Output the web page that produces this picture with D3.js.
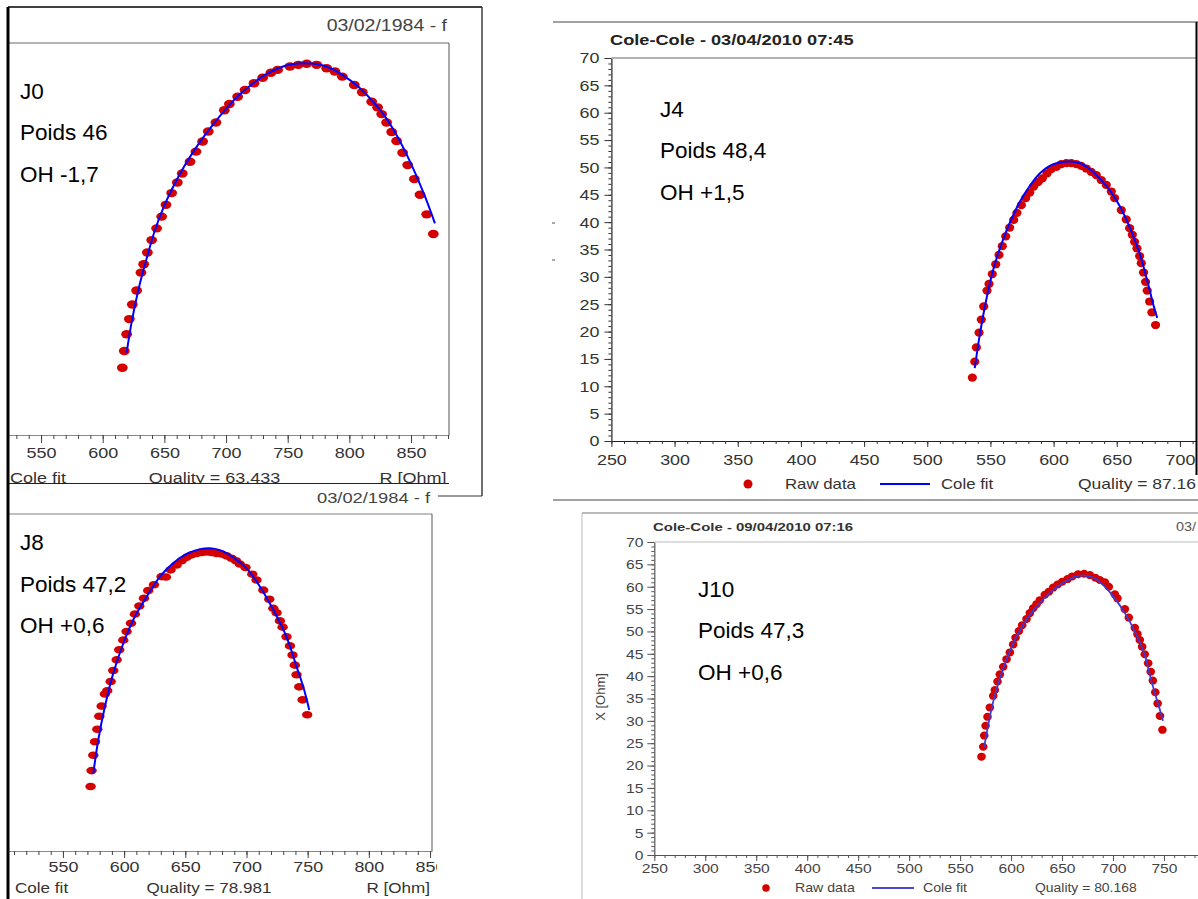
<!DOCTYPE html>
<html>
<head>
<meta charset="utf-8">
<script src="https://cdn.jsdelivr.net/npm/d3@7"></script>
<style>
  body { margin: 0; background: #fff; }
  svg { display: block; }
  text { font-family: "Liberation Sans", Arial, Helvetica, sans-serif; }
</style>
</head>
<body>
<svg id="c" width="1198" height="899"></svg>
<script>
// ---------------- DATA ----------------
// Raw data points [R (Ohm), X (Ohm)] and Cole fit curves
const j0Raw = [[615.9,12.0],[617.5,15.0],[619.4,18.0],[621.6,20.7],[624.0,23.3],[627.5,25.8],[631.0,29.0],[633.2,30.5],[636.2,32.6],[639.7,34.8],[643.7,36.9],[647.8,39.0],[651.3,41.1],[655.9,43.2],[660.5,45.1],[664.5,46.7],[670.8,48.8],[675.6,50.6],[681.0,52.4],[685.6,54.2],[691.8,55.8],[698.6,58.0],[702.7,59.1],[709.4,60.4],[715.4,61.6],[722.7,62.8],[729.7,63.8],[736.4,64.7],[741.8,65.2],[751.8,65.8],[758.6,66.1],[765.4,66.3],[773.5,66.1],[781.6,65.5],[788.3,64.9],[794.3,64.0],[804.0,62.5],[810.5,61.2],[818.1,59.5],[822.9,58.5],[826.2,57.3],[830.2,55.8],[834.3,54.1],[838.3,52.5],[843.2,50.4],[847.3,48.2],[852.7,45.7],[857.3,42.9],[862.7,39.4],[868.1,35.9]];
const j0Fit = [[619.4,14.7],[623.5,20.2],[628.9,25.9],[635.6,31.5],[642.4,36.6],[649.1,40.5],[655.9,43.8],[666.7,48.2],[677.5,51.9],[688.3,55.1],[699.1,58.0],[710.0,60.6],[720.8,62.6],[731.6,64.3],[742.4,65.5],[753.2,66.2],[764.0,66.4],[774.8,66.2],[785.6,65.4],[796.4,64.0],[807.3,62.2],[818.1,59.8],[828.9,56.9],[839.7,53.0],[850.5,48.2],[861.3,42.6],[869.4,37.8]];

const j4Raw = [[535.7,11.6],[537.6,14.5],[538.9,17.1],[541.0,19.8],[542.8,22.2],[544.7,24.6],[547.3,27.5],[548.9,28.7],[551.5,30.5],[554.2,32.3],[556.8,34.0],[559.4,35.6],[562.1,37.4],[565.2,39.0],[568.4,40.4],[571.0,41.7],[574.5,43.1],[577.9,44.4],[581.1,45.4],[584.2,46.5],[587.7,47.3],[591.1,48.0],[594.8,48.9],[598.2,49.7],[602.2,50.1],[606.1,50.6],[610.1,50.8],[614.0,50.8],[618.0,50.6],[621.9,50.3],[625.9,49.8],[629.8,49.2],[633.8,48.6],[637.7,47.7],[641.7,46.8],[645.7,45.6],[648.3,44.4],[653.6,42.2],[657.5,40.5],[660.2,38.9],[662.3,37.7],[664.1,36.4],[666.0,35.2],[668.1,33.8],[669.4,32.5],[671.2,30.8],[672.8,29.1],[674.1,27.5],[676.0,25.5],[677.8,23.5],[680.7,21.2]];
const j4Fit = [[537.6,13.3],[541.5,19.3],[546.8,25.9],[552.1,31.2],[558.7,36.0],[565.2,39.8],[573.2,43.7],[581.1,46.6],[589.0,48.9],[596.9,50.3],[604.8,50.9],[612.7,51.1],[620.6,50.8],[628.5,49.7],[636.4,48.0],[644.3,45.9],[652.2,43.0],[660.2,39.1],[668.1,34.3],[674.7,28.8],[678.6,25.2],[682.0,22.5]];

const j8Raw = [[572.6,13.4],[573.4,16.7],[574.8,19.9],[576.2,22.7],[578.1,25.3],[579.7,28.0],[581.6,30.1],[584.3,32.6],[586.2,33.3],[589.0,35.2],[591.1,37.5],[593.9,39.7],[596.0,41.8],[599.3,43.8],[602.0,45.6],[605.6,47.3],[608.8,49.2],[612.4,50.9],[616.2,52.5],[619.7,54.1],[624.4,55.3],[630.6,57.0],[634.2,56.9],[638.0,58.4],[642.9,59.4],[647.0,60.3],[651.0,61.0],[655.1,61.5],[659.2,61.8],[663.3,62.0],[667.4,62.1],[671.5,62.0],[675.6,61.8],[679.6,61.7],[683.7,61.3],[687.8,60.8],[691.4,60.3],[694.6,59.6],[699.2,58.9],[704.7,57.5],[708.2,56.3],[713.7,54.2],[718.6,52.3],[721.9,50.4],[724.6,49.5],[727.3,47.8],[729.5,46.5],[732.7,44.5],[735.5,42.6],[737.6,40.7],[739.5,38.6],[740.9,36.6],[743.1,34.1],[745.8,31.4],[749.6,28.3]];
const j8Fit = [[574.8,16.1],[578.9,23.1],[584.3,30.0],[591.1,36.9],[599.3,43.1],[608.8,48.7],[618.4,52.8],[629.3,57.0],[640.2,59.8],[651.0,61.7],[662.0,62.7],[670.1,62.9],[678.3,62.5],[689.2,61.0],[700.1,58.7],[711.0,54.9],[721.9,50.1],[732.7,44.5],[740.9,38.3],[746.4,34.1],[751.3,29.3]];

const j10Raw = [[571.0,22.0],[572.7,24.2],[573.7,26.7],[575.0,28.9],[576.9,30.9],[579.2,33.0],[582.5,35.6],[584.1,36.9],[586.7,38.8],[589.0,40.4],[592.3,42.1],[595.6,43.8],[598.8,45.3],[602.1,47.1],[604.4,48.6],[607.7,50.1],[610.9,51.4],[615.2,52.8],[618.4,54.1],[621.7,55.2],[625.0,56.1],[628.2,57.0],[633.1,58.2],[637.1,58.9],[641.3,59.8],[645.6,60.5],[650.1,61.1],[655.4,61.7],[659.9,62.3],[665.8,62.8],[671.7,62.9],[677.3,62.6],[682.8,62.0],[687.1,61.5],[692.0,61.0],[695.9,60.0],[701.8,58.3],[704.4,57.4],[711.6,55.0],[715.5,53.1],[721.4,50.8],[724.0,49.4],[726.3,48.1],[728.6,46.6],[731.2,44.9],[734.5,42.9],[737.0,41.0],[739.1,39.0],[741.5,36.4],[743.8,33.9],[746.1,31.1],[748.5,28.0]];
const j10Fit = [[573.7,24.2],[577.6,29.1],[582.5,34.3],[589.0,39.5],[597.2,44.7],[607.0,49.6],[618.4,53.7],[629.9,56.8],[641.3,59.3],[652.8,61.1],[664.2,62.3],[672.4,62.5],[682.2,61.9],[692.0,60.0],[701.8,57.4],[711.6,54.1],[721.4,50.0],[731.2,44.7],[737.0,39.5],[742.0,35.5],[746.0,32.5],[749.0,30.0]];

// Tick labels
const j0XTicks = [550, 600, 650, 700, 750, 800, 850];
const j8XTicks = [550, 600, 650, 700, 750, 800, 850];
const j4XTicks = [250, 300, 350, 400, 450, 500, 550, 600, 650, 700];
const j10XTicks = [250, 300, 350, 400, 450, 500, 550, 600, 650, 700, 750];
const yTicks = [0, 5, 10, 15, 20, 25, 30, 35, 40, 45, 50, 55, 60, 65, 70];

// Text content
const notes = {
  j0: ["J0", "Poids 46", "OH -1,7"],
  j4: ["J4", "Poids 48,4", "OH +1,5"],
  j8: ["J8", "Poids 47,2", "OH +0,6"],
  j10: ["J10", "Poids 47,3", "OH +0,6"]
};
const qualities = { j0: "Quality = 63.433", j4: "Quality = 87.16", j8: "Quality = 78.981", j10: "Quality = 80.168" };

// ---------------- DRAWING ----------------
const svg = d3.select('#c');
const defs = svg.append('defs');

function txt(g, x, y, s, o = {}) {
  return g.append('text')
    .attr('transform', `translate(${x},${y}) scale(${o.sx || 1},1)`)
    .attr('dy', '0.35em')
    .attr('text-anchor', o.anchor || 'start')
    .attr('font-size', o.size || 14)
    .attr('font-weight', o.weight || 'normal')
    .attr('fill', o.fill || '#333')
    .text(s);
}
function ln(g, x1, y1, x2, y2, stroke, w) {
  return g.append('line').attr('x1', x1).attr('y1', y1).attr('x2', x2).attr('y2', y2)
    .attr('stroke', stroke).attr('stroke-width', w || 1);
}
function clip(id, x, y, w, h) {
  defs.append('clipPath').attr('id', id).append('rect')
    .attr('x', x).attr('y', y).attr('width', w).attr('height', h);
  return svg.append('g').attr('clip-path', `url(#${id})`);
}

function drawPanel(p) {
  const g = clip(p.id, p.clip[0], p.clip[1], p.clip[2], p.clip[3]);
  const x = d3.scaleLinear().domain(p.xDomain).range(p.xRange);
  const y = d3.scaleLinear().domain([0, 70]).range(p.yRange);
  const y0 = p.yRange[0];

  // minor x ticks
  const minor = d3.range(Math.ceil(p.xDomain[0] / 10) * 10, p.xDomain[1], 10);
  const axMinor = g.append('g').attr('transform', `translate(0,${y0})`)
    .call(d3.axisBottom(x).tickValues(minor).tickSize(p.minorLen).tickSizeOuter(0).tickFormat(''));
  axMinor.select('.domain').attr('stroke', p.axisColor).attr('stroke-width', 1.2);
  axMinor.selectAll('.tick line').attr('stroke', p.tickColor);
  // major x ticks + labels
  const axMajor = g.append('g').attr('transform', `translate(0,${y0})`)
    .call(d3.axisBottom(x).tickValues(p.xTicks).tickSize(p.majorLen).tickSizeOuter(0).tickFormat(d3.format('d')));
  axMajor.select('.domain').remove();
  axMajor.selectAll('.tick line').attr('stroke', p.tickColor);
  axMajor.selectAll('.tick text')
    .attr('y', p.labelOff).attr('dy', '0.35em')
    .attr('transform', `scale(${p.sx},1)`)
    .attr('font-size', p.tickFont).attr('fill', p.labelColor)
    .attr('font-family', '"Liberation Sans", Arial, sans-serif');

  if (p.yAxis) {
    const ym = d3.range(0, 71, 1);
    const ayMinor = g.append('g').attr('transform', `translate(${p.xRange[0]},0)`)
      .call(d3.axisLeft(y).tickValues(ym).tickSize(3).tickSizeOuter(0).tickFormat(''));
    ayMinor.select('.domain').attr('stroke', p.axisColor).attr('stroke-width', 1.2);
    ayMinor.selectAll('.tick line').attr('stroke', p.tickColor);
    const ayMajor = g.append('g').attr('transform', `translate(${p.xRange[0]},0)`)
      .call(d3.axisLeft(y).tickValues(yTicks).tickSize(7).tickSizeOuter(0).tickFormat(d3.format('d')));
    ayMajor.select('.domain').remove();
    ayMajor.selectAll('.tick line').attr('stroke', p.tickColor);
    ayMajor.selectAll('.tick text')
      .attr('x', -p.yLabelOff / p.sx).attr('dy', '0.35em')
      .attr('transform', `scale(${p.sx},1)`)
      .attr('font-size', p.tickFont).attr('fill', p.labelColor)
      .attr('font-family', '"Liberation Sans", Arial, sans-serif');
  }

  // raw dots (under the fit line)
  g.append('g').selectAll('ellipse').data(p.raw).join('ellipse')
    .attr('cx', d => x(d[0])).attr('cy', d => y(d[1]))
    .attr('rx', p.rx).attr('ry', p.ry).attr('fill', '#d40000');
  // fit line
  g.append('path')
    .datum(p.fit)
    .attr('d', d3.line().x(d => x(d[0])).y(d => y(d[1])).curve(d3.curveCatmullRom))
    .attr('fill', 'none').attr('stroke', p.fitColor).attr('stroke-width', p.fitWidth);

  // annotations
  p.notes.forEach((s, i) => {
    g.append('text').attr('x', p.noteX).attr('y', p.noteY[i])
      .attr('font-size', 22.5).attr('fill', '#000').text(s);
  });
  return g;
}

// ---- Panel J0 (top left) ----
const gJ0 = drawPanel({
  id: 'cj0', clip: [8, 7, 474, 476.5],
  xDomain: [523.2, 880.8], xRange: [8, 449], yRange: [435, 43],
  xTicks: j0XTicks, minorLen: 4, majorLen: 8, labelOff: 18, sx: 1.2, tickFont: 15,
  axisColor: '#888', tickColor: '#444', labelColor: '#333',
  raw: j0Raw, fit: j0Fit, fitColor: '#0000ff', fitWidth: 2, rx: 5.4, ry: 4.2,
  notes: notes.j0, noteX: 20, noteY: [98.5, 140, 181.5]
});
ln(gJ0, 8, 43, 449, 43, '#9a9a9a', 1.5);
ln(gJ0, 449, 43, 449, 435, '#555', 1);
txt(gJ0, 447, 25, '03/02/1984 - f', { anchor: 'end', size: 16, sx: 1.22, fill: '#444' });
txt(gJ0, 10, 478, 'Cole fit', { size: 15, sx: 1.2, fill: '#333' });
txt(gJ0, 214.5, 478, qualities.j0, { anchor: 'middle', size: 15, sx: 1.2, fill: '#333' });
txt(gJ0, 446.5, 478, 'R [Ohm]', { anchor: 'end', size: 15, sx: 1.2, fill: '#333' });

// ---- Panel J8 (bottom left) ----
const gJ8 = drawPanel({
  id: 'cj8', clip: [8, 486, 429, 413],
  xDomain: [505.1, 851.6], xRange: [8, 432], yRange: [851, 514],
  xTicks: j8XTicks, minorLen: 4, majorLen: 7, labelOff: 15.7, sx: 1.28, tickFont: 14,
  axisColor: '#888', tickColor: '#444', labelColor: '#333',
  raw: j8Raw, fit: j8Fit, fitColor: '#0000ff', fitWidth: 2, rx: 5.2, ry: 3.8,
  notes: notes.j8, noteX: 20, noteY: [550, 591.5, 632.5]
});
ln(gJ8, 8, 514, 432, 514, '#aaa', 1.5);
ln(gJ8, 432, 514, 432, 851, '#555', 1);
txt(gJ8, 430, 498, '03/02/1984 - f', { anchor: 'end', size: 14, sx: 1.31, fill: '#444' });
txt(gJ8, 15, 888, 'Cole fit', { size: 14, sx: 1.22, fill: '#333' });
txt(gJ8, 209, 888, qualities.j8, { anchor: 'middle', size: 14, sx: 1.22, fill: '#333' });
txt(gJ8, 430, 888, 'R [Ohm]', { anchor: 'end', size: 14, sx: 1.22, fill: '#333' });

// ---- Panel J4 (top right) ----
const gJ4 = drawPanel({
  id: 'cj4', clip: [553, 22, 643, 478],
  xDomain: [250, 714.3], xRange: [611.4, 1198], yRange: [441, 58],
  xTicks: j4XTicks, minorLen: 3, majorLen: 6, labelOff: 19, sx: 1.28, tickFont: 14,
  yAxis: true, yLabelOff: 12,
  axisColor: '#222', tickColor: '#333', labelColor: '#333',
  raw: j4Raw, fit: j4Fit, fitColor: '#0000ff', fitWidth: 2, rx: 4.6, ry: 4.1,
  notes: notes.j4, noteX: 660, noteY: [116.5, 158.3, 200]
});
ln(gJ4, 611.4, 58, 1198, 58, '#999', 1.5);
txt(gJ4, 610, 40, 'Cole-Cole - 03/04/2010 07:45', { size: 14, weight: 'bold', sx: 1.3, fill: '#222' });
gJ4.append('circle').attr('cx', 748).attr('cy', 484).attr('r', 4.5).attr('fill', '#d40000');
txt(gJ4, 785, 484, 'Raw data', { size: 14, sx: 1.2, fill: '#333' });
ln(gJ4, 880, 484, 930, 484, '#0000ff', 2);
txt(gJ4, 941, 484, 'Cole fit', { size: 14, sx: 1.2, fill: '#333' });
txt(gJ4, 1078, 484, qualities.j4, { size: 14, sx: 1.25, fill: '#333' });

// ---- Panel J10 (bottom right) ----
const gJ10 = drawPanel({
  id: 'cj10', clip: [582, 513, 616, 386],
  xDomain: [250, 783.4], xRange: [654.3, 1198], yRange: [855, 542],
  xTicks: j10XTicks, minorLen: 3, majorLen: 6, labelOff: 14, sx: 1.25, tickFont: 12.5,
  yAxis: true, yLabelOff: 11,
  axisColor: '#555', tickColor: '#555', labelColor: '#444',
  raw: j10Raw, fit: j10Fit, fitColor: '#3b3bd8', fitWidth: 1.8, rx: 4.3, ry: 4,
  notes: notes.j10, noteX: 698, noteY: [597.3, 638.3, 680]
});
ln(gJ10, 654.3, 542, 1198, 542, '#bbb', 1.2);
txt(gJ10, 653, 527, 'Cole-Cole - 09/04/2010 07:16', { size: 11.5, weight: 'bold', sx: 1.3, fill: '#333' });
txt(gJ10, 1176, 527, '03/', { size: 12, sx: 1.2, fill: '#555' });
gJ10.append('text').attr('transform', 'translate(600,697) rotate(-90)')
  .attr('dy', '0.35em').attr('text-anchor', 'middle').attr('font-size', 13).attr('fill', '#444')
  .text('X [Ohm]');
gJ10.append('circle').attr('cx', 766).attr('cy', 888).attr('r', 3.8).attr('fill', '#d40000');
txt(gJ10, 795, 888, 'Raw data', { size: 12, sx: 1.18, fill: '#444' });
ln(gJ10, 872, 888, 914, 888, '#4848d8', 2);
txt(gJ10, 923, 888, 'Cole fit', { size: 12, sx: 1.18, fill: '#444' });
txt(gJ10, 1035, 888, qualities.j10, { size: 12, sx: 1.16, fill: '#444' });

// ---- Frame / collage lines ----
const frame = svg.append('g');
ln(frame, 8, 7, 482, 7, '#000', 1.5);          // J0 top border
ln(frame, 482, 7, 482, 496, '#111', 1.2);       // J0 right border
ln(frame, 8, 483.5, 449, 483.5, '#222', 1.2);   // cut line under J0 footer
ln(frame, 438, 496, 482, 496, '#333', 1);       // connector
ln(frame, 8, 7, 8, 899, '#000', 3);             // thick left border
ln(frame, 553, 22, 1198, 22, '#444', 1.2);      // J4 top border
ln(frame, 1196.5, 22, 1196.5, 475, '#000', 2);  // J4 right border
ln(frame, 553, 500, 1198, 500, '#444', 1);      // J4 bottom border
ln(frame, 552, 223, 555, 223, '#555', 1);
ln(frame, 552, 260, 555, 260, '#555', 1);
ln(frame, 582, 513, 1198, 513, '#777', 1.2);    // J10 top border
ln(frame, 582, 513, 582, 899, '#bbb', 1);       // J10 left border
</script>
</body>
</html>
